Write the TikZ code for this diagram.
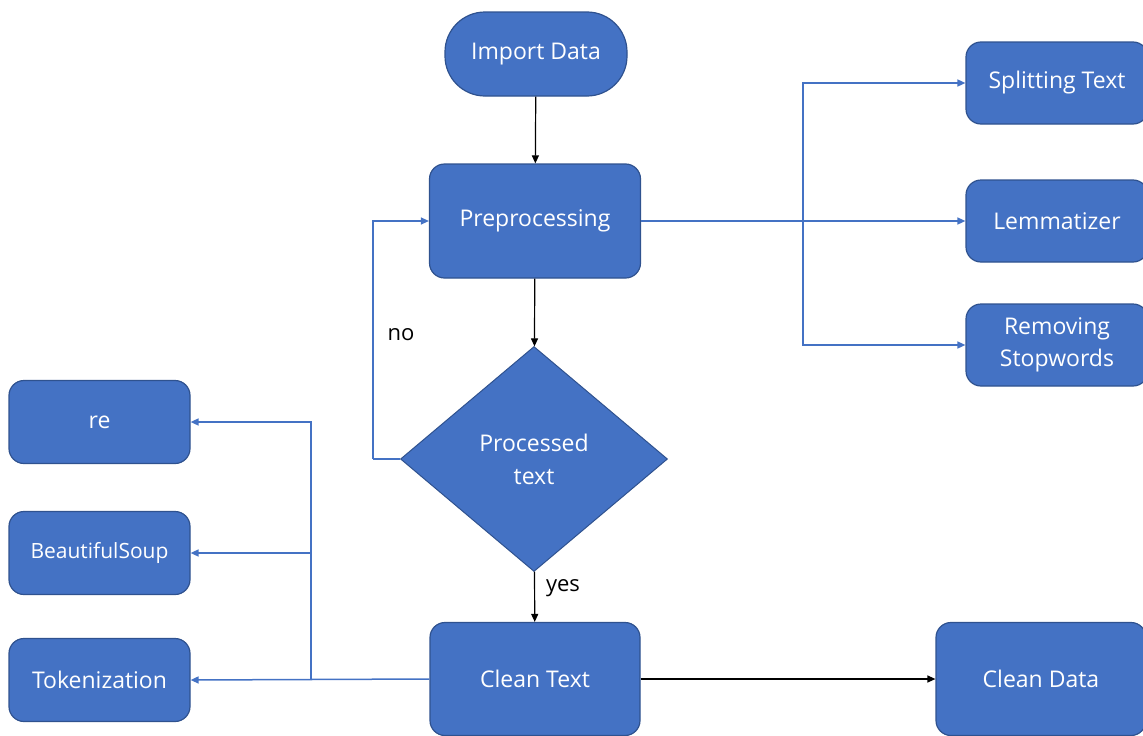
\documentclass[tikz,border=0pt]{standalone}
\usepackage{fontspec}
\setmainfont{Open Sans}
\usetikzlibrary{shapes.geometric,arrows.meta}
\definecolor{boxblue}{HTML}{4472C4}
\definecolor{boxedge}{HTML}{2F528F}
\tikzset{
  box/.style={draw=boxedge, line width=1.2pt, fill=boxblue, rounded corners=15pt,
    text=white, font=\fontsize{23}{32}\selectfont, align=center, inner sep=0pt},
  startbox/.style={box, rounded corners=40pt},
  decision/.style={draw=boxedge, line width=1pt, fill=boxblue, diamond, aspect=1.19,
    minimum width=267pt, minimum height=225pt, inner sep=0pt,
    text=white, font=\fontsize{23}{33}\selectfont, align=center},
  flow/.style={draw=black, line width=1.2pt, -{Triangle[length=8pt,width=7pt]}},
  branch/.style={draw=boxblue, line width=1.5pt, -{Triangle[length=8pt,width=7pt]}},
  branchline/.style={draw=boxblue, line width=1.5pt},
  lbl/.style={font=\fontsize{22}{26}\selectfont, text=black}
}
\begin{document}
\begin{tikzpicture}[x=1pt,y=-1pt]
\useasboundingbox (0,0) rectangle (1143,736);

% main column
\node[startbox, minimum width=182pt, minimum height=84pt] (imp) at (536,54) {Import Data};
\node[box, minimum width=211pt, minimum height=114pt] (pre) at (535,221) {Preprocessing};
\node[decision] (dia) at (534,459) {Processed\\text};
\node[box, minimum width=210pt, minimum height=113pt] (clean) at (535,679) {Clean Text};
\node[box, minimum width=210pt, minimum height=113pt] (cdata) at (1041,679) {Clean Data};

% right-hand tools
\node[box, minimum width=182pt, minimum height=82pt] (split) at (1057,83) {Splitting Text};
\node[box, minimum width=182pt, minimum height=82pt] (lem) at (1057,221) {Lemmatizer};
\node[box, minimum width=182pt, minimum height=82pt] (stop) at (1057,345) {Removing\\Stopwords};

% left-hand tools
\node[box, minimum width=181pt, minimum height=83pt] (re) at (99.5,422) {re};
\node[box, minimum width=181pt, minimum height=83pt] (bs) at (99.5,553) {\fontsize{21}{26}\selectfont BeautifulSoup};
\node[box, minimum width=181pt, minimum height=83pt] (tok) at (99.5,680) {Tokenization};

% branch points
\coordinate (rb) at (803,221);
\coordinate (lb) at (311,679);
\coordinate (back) at (373,459);

% main flow
\draw[flow] (imp) -- (pre);
\draw[flow] (pre) -- (dia);
\draw[flow] (dia) -- (clean);
\draw[flow] (clean) -- (cdata);

% loop back when not yet processed
\draw[branchline] (dia.west) -- (back);
\draw[branch, line width=1.2pt] (back) |- (pre.west);

% preprocessing steps
\draw[branch] (pre.east) -- (lem.west);
\draw[branch] (rb) |- (split.west);
\draw[branch] (rb) |- (stop.west);

% cleaning libraries
\draw[branch] (clean.west) -- (tok.east);
\draw[branch] (lb) |- (bs.east);
\draw[branch] (lb) |- (re.east);

% labels
\node[lbl] (no) at (401,335) {no};
\node[lbl] (yes) at (563,588) {yes};
\end{tikzpicture}
\end{document}
